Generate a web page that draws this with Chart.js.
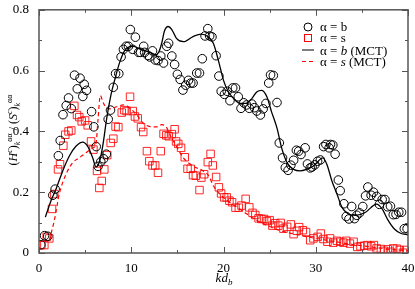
<!DOCTYPE html>
<html>
<head>
<meta charset="utf-8">
<script src="https://cdn.jsdelivr.net/npm/chart.js@4.4.0/dist/chart.umd.min.js"></script>
<style>
  html, body { margin: 0; padding: 0; background: #fff; }
  #wrap { width: 415px; height: 289px; }
</style>
</head>
<body>
<div id="wrap"><canvas id="chart" width="415" height="289"></canvas></div>
<script>
// alpha = b, simulation (circles)
const bK = [0.2,0.6,0.95,1.5,1.75,2.1,2.3,2.6,2.95,3.2,3.5,3.85,4.15,4.45,4.75,4.9,5.15,5.7,5.95,6.2,6.4,6.7,7.0,7.3,7.5,7.75,8.05,8.3,8.65,8.9,9.15,9.45,9.7,9.9,10.15,10.45,10.8,11.0,11.35,11.45,11.8,12.0,12.3,12.6,12.9,13.2,13.5,13.85,14.05,14.4,14.7,15.0,15.3,15.6,15.9,16.2,16.45,16.7,17.1,17.4,17.7,18.0,18.3,18.5,18.75,19.2,19.5,19.75,20.1,20.4,20.7,21.0,21.3,21.6,21.9,22.2,22.5,22.8,23.07,23.35,23.6,24.0,24.3,24.6,24.9,25.1,25.4,25.8,26.05,26.4,26.7,27.0,27.3,27.6,27.9,28.15,28.4,28.85,29.1,29.4,29.6,29.9,30.2,30.5,30.85,31.1,31.45,31.6,31.85,32.1,32.45,32.65,33.05,33.3,33.6,33.9,34.2,34.45,34.75,35.1,35.4,35.65,36.0,36.26,36.6,36.9,37.2,37.5,37.8,38.1,38.4,38.7,39.0,39.3,39.6,39.9];
const bVal = [0.027,0.057,0.055,0.19,0.21,0.32,0.37,0.455,0.485,0.51,0.475,0.585,0.54,0.575,0.515,0.555,0.535,0.465,0.415,0.35,0.285,0.30,0.31,0.325,0.44,0.47,0.545,0.59,0.59,0.645,0.67,0.68,0.68,0.735,0.67,0.71,0.66,0.66,0.68,0.66,0.65,0.645,0.665,0.635,0.633,0.648,0.625,0.68,0.69,0.648,0.62,0.588,0.571,0.536,0.552,0.568,0.559,0.559,0.592,0.592,0.639,0.714,0.738,0.714,0.711,0.649,0.582,0.532,0.522,0.532,0.501,0.543,0.543,0.514,0.476,0.494,0.487,0.476,0.49,0.478,0.467,0.454,0.474,0.492,0.559,0.586,0.584,0.495,0.362,0.313,0.281,0.272,0.289,0.305,0.338,0.335,0.324,0.346,0.293,0.28,0.283,0.29,0.302,0.306,0.35,0.357,0.346,0.357,0.355,0.325,0.24,0.205,0.162,0.12,0.112,0.153,0.113,0.124,0.132,0.153,0.188,0.217,0.19,0.2,0.186,0.16,0.176,0.176,0.152,0.154,0.126,0.127,0.134,0.134,0.08,0.08];

// alpha = s, simulation (squares)
const sK = [0.25,0.58,0.83,1.12,1.41,1.66,2.06,2.28,2.64,2.85,3.2,3.5,3.83,4.12,4.37,4.63,5.0,5.28,5.64,5.9,6.29,6.54,6.8,7.08,7.4,7.77,8.06,8.3,8.6,8.97,9.25,9.5,9.87,10.16,10.4,10.7,11.06,11.3,11.7,11.96,12.3,12.6,12.9,13.2,13.5,13.8,14.07,14.4,14.7,14.86,15.1,15.4,15.8,16.1,16.45,16.7,17.0,17.4,17.6,17.9,18.3,18.6,18.84,19.2,19.5,19.74,20.07,20.35,20.64,20.93,21.3,21.66,21.95,22.4,22.8,23.15,23.45,23.8,24.1,24.4,24.7,25.0,25.3,25.6,25.95,26.2,26.5,26.9,27.3,27.6,27.95,28.2,28.6,28.95,29.4,29.75,30.2,30.55,30.84,31.27,31.56,31.9,32.3,32.65,33.0,33.3,33.7,34.1,34.5,34.85,35.25,35.6,36.0,36.3,36.6,37.06,37.4,37.8,38.1,38.4,38.8,39.1,39.45,39.8];
const sVal = [0.026,0.026,0.053,0.048,0.145,0.194,0.275,0.292,0.353,0.389,0.4,0.403,0.484,0.454,0.447,0.433,0.436,0.42,0.367,0.34,0.27,0.214,0.237,0.275,0.322,0.362,0.376,0.416,0.414,0.462,0.47,0.467,0.514,0.467,0.449,0.443,0.414,0.398,0.335,0.302,0.288,0.288,0.264,0.335,0.392,0.387,0.384,0.391,0.407,0.367,0.359,0.346,0.315,0.277,0.277,0.256,0.254,0.207,0.248,0.259,0.299,0.326,0.288,0.25,0.216,0.196,0.183,0.183,0.172,0.167,0.149,0.149,0.156,0.178,0.15,0.132,0.125,0.114,0.112,0.112,0.105,0.108,0.09,0.098,0.09,0.099,0.08,0.086,0.094,0.062,0.073,0.085,0.075,0.069,0.042,0.048,0.053,0.064,0.046,0.037,0.048,0.034,0.04,0.037,0.034,0.04,0.031,0.037,0.02,0.022,0.024,0.026,0.022,0.026,0.015,0.013,0.007,0.012,0.004,0.015,0.014,0.01,0.001,0.01];

// MCT theory curves
const mctBK = [0.69,1.3,1.84,2.57,3.29,4.0,4.74,5.28,5.82,6.18,6.6,6.95,7.34,7.8,8.24,8.8,9.5,10.2,10.95,12.04,12.7,13.0,13.3,13.6,14.0,14.4,14.9,15.65,16.7,17.6,18.3,18.9,19.45,20.0,20.5,21.1,21.8,22.4,23.07,23.6,24.15,24.7,25.2,25.8,26.3,26.9,27.6,28.3,29.0,29.75,30.3,30.75,31.2,31.75,32.3,32.83,33.5,34.3,35.4,36.0,36.6,37.2,37.8,38.5,39.2,40];
const mctBVal = [0.118,0.172,0.21,0.27,0.319,0.351,0.365,0.351,0.313,0.283,0.305,0.36,0.443,0.52,0.573,0.632,0.674,0.68,0.671,0.66,0.652,0.662,0.69,0.73,0.745,0.735,0.706,0.695,0.712,0.72,0.712,0.69,0.633,0.568,0.532,0.508,0.492,0.492,0.508,0.53,0.535,0.514,0.465,0.411,0.346,0.297,0.275,0.27,0.275,0.286,0.303,0.313,0.292,0.237,0.194,0.151,0.129,0.124,0.134,0.15,0.161,0.145,0.11,0.08,0.065,0.06];
const mctSK = [1.12,1.66,2.2,2.93,3.65,4.37,5.1,5.82,6.18,6.4,6.65,6.95,7.3,7.8,8.4,9.15,9.87,10.6,11.3,12.04,12.76,13.3,13.8,14.2,14.9,15.65,16.7,17.8,18.4,18.9,19.6,20.5,21.5,22.5,23.6,24.7,26.0,28,30,32,34,36,38,40];
const mctSVal = [0.042,0.107,0.194,0.259,0.297,0.313,0.33,0.345,0.36,0.44,0.518,0.495,0.478,0.474,0.481,0.487,0.476,0.454,0.427,0.416,0.415,0.422,0.414,0.389,0.351,0.313,0.286,0.27,0.254,0.221,0.194,0.17,0.15,0.129,0.108,0.091,0.075,0.06,0.048,0.038,0.028,0.02,0.012,0.008];

const xTicks = [0, 10, 20, 30, 40];
const yTicks = [0, 0.2, 0.4, 0.6, 0.8];

const toPts = (xs, ys) => xs.map((x, i) => ({ x: x, y: ys[i] }));
const SERIF = "'Liberation Serif', 'DejaVu Serif', serif";

// inward ticks on all four sides + frame
const framePlugin = {
  id: "frame",
  afterDraw(chart) {
    const { ctx, chartArea: a, scales } = chart;
    const xs = scales.x, ys = scales.y;
    ctx.save();
    ctx.strokeStyle = "#555";
    ctx.lineWidth = 1.5;
    ctx.strokeRect(a.left, a.top, a.right - a.left, a.bottom - a.top);
    ctx.lineWidth = 1;
    for (let v = 0; v <= 40; v += 5) {
      const px = Math.round(xs.getPixelForValue(v)) + 0.5;
      const len = v % 10 === 0 ? 6 : 3;
      ctx.beginPath();
      ctx.moveTo(px, a.bottom); ctx.lineTo(px, a.bottom - len);
      ctx.moveTo(px, a.top); ctx.lineTo(px, a.top + len);
      ctx.stroke();
    }
    for (let i = 0; i <= 8; i++) {
      const py = Math.round(ys.getPixelForValue(i / 10)) + 0.5;
      const len = i % 2 === 0 ? 6 : 3;
      ctx.beginPath();
      ctx.moveTo(a.left, py); ctx.lineTo(a.left + len, py);
      ctx.moveTo(a.right, py); ctx.lineTo(a.right - len, py);
      ctx.stroke();
    }
    ctx.restore();
  }
};

// draws a run of [text, style] pieces; style: n normal, i italic, sup, sub
function drawPieces(ctx, pieces, x, y, size) {
  const big = size || 13, small = Math.round(big * 0.7);
  let cx = x;
  pieces.forEach(p => {
    const [t, st] = p;
    let font = big + "px " + SERIF, dy = 0;
    if (st === "i") font = "italic " + big + "px " + SERIF;
    if (st === "sup") { font = "italic " + small + "px " + SERIF; dy = -big * 0.45; }
    if (st === "sub") { font = "italic " + small + "px " + SERIF; dy = big * 0.25; }
    if (st === "supn") { font = small + "px " + SERIF; dy = -big * 0.45; }
    ctx.font = font;
    ctx.fillText(t, cx, y + dy);
    cx += ctx.measureText(t).width;
  });
  return cx - x;
}

function measurePieces(ctx, pieces, size) {
  ctx.save();
  ctx.globalAlpha = 0;
  const w = drawPieces(ctx, pieces, -1000, -1000, size);
  ctx.restore();
  return w;
}

const labelsPlugin = {
  id: "labels",
  afterDraw(chart) {
    const { ctx, chartArea: a } = chart;
    ctx.save();
    ctx.fillStyle = "#000";
    ctx.textBaseline = "alphabetic";

    // x title: kd_b
    const xp = [["kd", "i"], ["b", "sub"]];
    const xw = measurePieces(ctx, xp, 13);
    drawPieces(ctx, xp, 224 - xw / 2, 282, 13);

    // y title: (H^c)^aa_k / (S^c)^aa_k
    const yp = [["(", "n"], ["H", "i"], ["c", "sup"], [")", "n"], ["k", "sub"], ["αα", "supn"],
                [" / (", "n"], ["S", "i"], ["c", "sup"], [")", "n"], ["k", "sub"], ["αα", "supn"]];
    ctx.save();
    ctx.translate(17, 130);
    ctx.rotate(-Math.PI / 2);
    const yw = measurePieces(ctx, yp, 12);
    drawPieces(ctx, yp, -yw / 2, 0, 12);
    ctx.restore();

    // legend
    const lx = 308, tx = 320;
    ctx.strokeStyle = "#000"; ctx.lineWidth = 1;
    ctx.beginPath(); ctx.arc(lx, 27, 4, 0, Math.PI * 2); ctx.stroke();
    ctx.strokeStyle = "#ff0000";
    ctx.strokeRect(lx - 3.5, 34.5, 7, 7);
    ctx.strokeStyle = "#000";
    ctx.beginPath(); ctx.moveTo(302, 50); ctx.lineTo(314, 50); ctx.stroke();
    ctx.strokeStyle = "#ff0000";
    ctx.setLineDash([4, 3]);
    ctx.beginPath(); ctx.moveTo(302, 61.5); ctx.lineTo(314, 61.5); ctx.stroke();
    ctx.setLineDash([]);
    drawPieces(ctx, [["α = b", "n"]], tx, 31, 13);
    drawPieces(ctx, [["α = s", "n"]], tx, 42, 13);
    drawPieces(ctx, [["α = ", "n"], ["b", "i"], [" (MCT)", "n"]], tx, 54.5, 13);
    drawPieces(ctx, [["α = ", "n"], ["s", "i"], [" (MCT)", "n"]], tx, 66, 13);
    ctx.restore();
  }
};

new Chart(document.getElementById("chart"), {
  type: "scatter",
  data: {
    datasets: [
      {
        label: "α = b (MCT)",
        type: "line",
        data: toPts(mctBK, mctBVal),
        borderColor: "#000",
        borderWidth: 1.3,
        pointRadius: 0,
        fill: false,
        cubicInterpolationMode: "monotone"
      },
      {
        label: "α = s (MCT)",
        type: "line",
        data: toPts(mctSK, mctSVal),
        borderColor: "#ff0000",
        borderWidth: 1.2,
        borderDash: [4, 3],
        pointRadius: 0,
        fill: false,
        cubicInterpolationMode: "monotone"
      },
      {
        label: "α = b",
        data: toPts(bK, bVal),
        pointStyle: "circle",
        pointRadius: 4.3,
        borderColor: "#000",
        borderWidth: 1,
        backgroundColor: "rgba(0,0,0,0)"
      },
      {
        label: "α = s",
        data: toPts(sK, sVal),
        pointStyle: "rect",
        pointRadius: 5.3,
        borderColor: "rgba(255,0,0,0.85)",
        borderWidth: 1,
        backgroundColor: "rgba(0,0,0,0)"
      }
    ]
  },
  options: {
    responsive: false,
    animation: false,
    layout: { padding: { top: 7, right: 7, left: 0, bottom: 0 } },
    plugins: { legend: { display: false }, tooltip: { enabled: false } },
    scales: {
      x: {
        type: "linear",
        min: 0, max: 40,
        afterBuildTicks: s => { s.ticks = xTicks.map(v => ({ value: v })); },
        afterFit: s => { s.height = 36; },
        grid: { display: false },
        border: { display: false },
        ticks: { color: "#000", padding: 0, font: { family: SERIF, size: 13 } }
      },
      y: {
        min: 0, max: 0.8,
        afterBuildTicks: s => { s.ticks = yTicks.map(v => ({ value: v })); },
        afterFit: s => { s.width = 39; },
        grid: { display: false },
        border: { display: false },
        ticks: {
          color: "#000", padding: 2, font: { family: SERIF, size: 13 },
          callback: v => (v === 0 ? "0" : v.toFixed(1))
        }
      }
    }
  },
  plugins: [framePlugin, labelsPlugin]
});
</script>
</body>
</html>
